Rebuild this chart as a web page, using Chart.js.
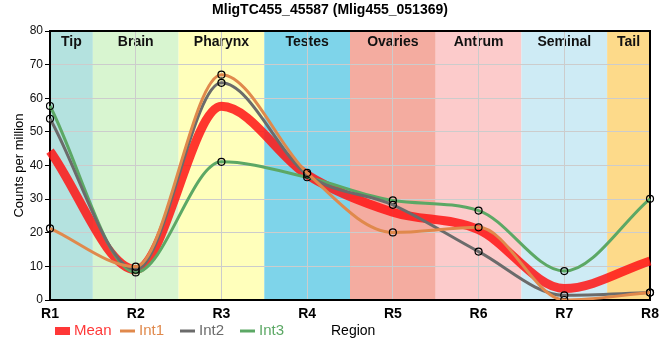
<!DOCTYPE html>
<html>
<head>
<meta charset="utf-8">
<script src="https://cdn.jsdelivr.net/npm/chart.js@4.4.0/dist/chart.umd.min.js"></script>
<style>
  body { margin: 0; background: #fff; }
  #wrap { width: 660px; height: 360px; position: relative; }
</style>
</head>
<body>
<div id="wrap"><canvas id="lineChart"></canvas></div>
<script>
var regions = ['R1', 'R2', 'R3', 'R4', 'R5', 'R6', 'R7', 'R8'];
var bandNames = ['Tip', 'Brain', 'Pharynx', 'Testes', 'Ovaries', 'Antrum', 'Seminal', 'Tail'];
var bandColors = ['#b4e2df', '#d8f5d0', '#ffffbb', '#7ed4ea', '#f4aca0', '#fccbcb', '#ceebf5', '#fdda8a'];

var meanVals = [44.3, 9.0, 57.6, 37.2, 26.1, 20.9, 3.4, 11.6];
var int1Vals = [21.3, 9.9, 67.0, 37.8, 20.1, 21.6, 0.0, 2.2];
var int2Vals = [53.9, 9.0, 64.6, 37.3, 28.3, 14.4, 1.4, 2.2];
var int3Vals = [57.7, 8.2, 41.1, 36.5, 29.6, 26.6, 8.6, 30.1];

var yTicks = [0, 10, 20, 30, 40, 50, 60, 70, 80];

var FONT = '"Liberation Sans", Arial, sans-serif';

// region bands + labels under the grid
var bandsPlugin = {
    id: 'bands',
    beforeDraw: function (chart) {
        var ctx = chart.ctx, area = chart.chartArea, xs = chart.scales.x;
        ctx.save();
        for (var i = 0; i < bandNames.length; i++) {
            var c = xs.getPixelForValue(i);
            var l = i === 0 ? area.left : (xs.getPixelForValue(i - 1) + c) / 2;
            var r = i === bandNames.length - 1 ? area.right : (xs.getPixelForValue(i + 1) + c) / 2;
            ctx.fillStyle = bandColors[i];
            ctx.fillRect(l, area.top, r - l, area.bottom - area.top);
            ctx.fillStyle = '#111';
            ctx.font = 'bold 14px ' + FONT;
            ctx.textAlign = 'center';
            ctx.textBaseline = 'middle';
            ctx.fillText(bandNames[i], (l + r) / 2, area.top + 11);
        }
        ctx.restore();
    },
    beforeDatasetsDraw: function (chart) {
        var ctx = chart.ctx, a = chart.chartArea;
        ctx.save();
        ctx.strokeStyle = '#000';
        ctx.lineWidth = 2;
        ctx.beginPath();
        ctx.moveTo(a.left, a.top);
        ctx.lineTo(a.right, a.top);
        ctx.lineTo(a.right, a.bottom);
        ctx.stroke();
        ctx.restore();
    }
};

// legend row with the x axis name beside it
var legendRow = {
    id: 'legendRow',
    afterDraw: function (chart) {
        var ctx = chart.ctx;
        var y = 331;
        var items = [
            { x: 55, ds: 0, box: true },
            { x: 120, ds: 1 },
            { x: 180, ds: 2 },
            { x: 240, ds: 3 }
        ];
        ctx.save();
        ctx.font = '15px ' + FONT;
        ctx.textBaseline = 'middle';
        ctx.textAlign = 'left';
        items.forEach(function (it) {
            var ds = chart.data.datasets[it.ds];
            if (it.box) {
                ctx.fillStyle = ds.borderColor;
                ctx.fillRect(it.x, y - 4, 15, 8);
            } else {
                ctx.strokeStyle = ds.borderColor;
                ctx.lineWidth = 3;
                ctx.beginPath();
                ctx.moveTo(it.x, y);
                ctx.lineTo(it.x + 15, y);
                ctx.stroke();
            }
            ctx.fillStyle = ds.borderColor;
            ctx.fillText(ds.label, it.x + 19, y);
        });
        ctx.fillStyle = '#000';
        ctx.font = '14px ' + FONT;
        ctx.fillText('Region', 331, y);
        ctx.restore();
    }
};

function intSet(label, data, color) {
    return {
        label: label,
        data: data,
        borderColor: color,
        backgroundColor: color,
        borderWidth: 3,
        pointRadius: 3.5,
        pointBorderWidth: 1.2,
        pointBorderColor: '#000',
        pointBackgroundColor: 'rgba(0,0,0,0)',
        cubicInterpolationMode: 'monotone',
        fill: false,
        order: 1
    };
}

var datasets = [
    {
        label: 'Mean',
        data: meanVals,
        borderColor: 'rgba(255, 20, 20, 0.85)',
        backgroundColor: 'rgba(255, 20, 20, 0.85)',
        borderWidth: 9,
        pointRadius: 0,
        cubicInterpolationMode: 'monotone',
        fill: false,
        order: 5
    },
    intSet('Int1', int1Vals, '#e0894c'),
    intSet('Int2', int2Vals, '#6b6b6b'),
    intSet('Int3', int3Vals, '#5ca865')
];

var ctx = document.getElementById('lineChart').getContext('2d');
var myChart = new Chart(ctx, {
    type: 'line',
    data: { labels: regions, datasets: datasets },
    options: {
        responsive: true,
        maintainAspectRatio: false,
        animation: false,
        layout: { padding: { left: 0, right: 10, top: 31, bottom: 36 } },
        plugins: {
            legend: { display: false },
            tooltip: { enabled: false },
            title: {
                display: false
            }
        },
        scales: {
            x: {
                offset: false,
                grid: { color: '#cccccc', lineWidth: 1, tickLength: 0 },
                border: { color: '#000', width: 2 },
                ticks: {
                    color: '#000',
                    font: { family: FONT, size: 14, weight: 'bold' },
                    padding: 6,
                    maxRotation: 0
                },
                afterFit: function (s) {
                    s.height = 24;
                    s.paddingLeft = 0;
                    s.paddingRight = 0;
                }
            },
            y: {
                min: 0,
                max: 80,
                afterBuildTicks: function (s) {
                    s.ticks = yTicks.map(function (v) { return { value: v }; });
                },
                grid: { color: '#cccccc', lineWidth: 1, tickLength: 5, tickColor: '#000' },
                border: { color: '#000', width: 2 },
                ticks: {
                    color: '#111',
                    font: { family: FONT, size: 12 },
                    padding: 2
                },
                title: {
                    display: true,
                    text: 'Counts per million',
                    color: '#000',
                    font: { family: FONT, size: 13 },
                    padding: { top: 12, bottom: 0 }
                },
                afterFit: function (s) { s.width = 50; }
            }
        }
    },
    plugins: [bandsPlugin, legendRow, {
        id: 'heading',
        afterDraw: function (chart) {
            var c = chart.ctx;
            c.save();
            c.font = 'bold 14px ' + FONT;
            c.fillStyle = '#000';
            c.textAlign = 'center';
            c.textBaseline = 'middle';
            c.fillText('MligTC455_45587 (Mlig455_051369)', 330, 10);
            c.restore();
        }
    }]
});
</script>
</body>
</html>
